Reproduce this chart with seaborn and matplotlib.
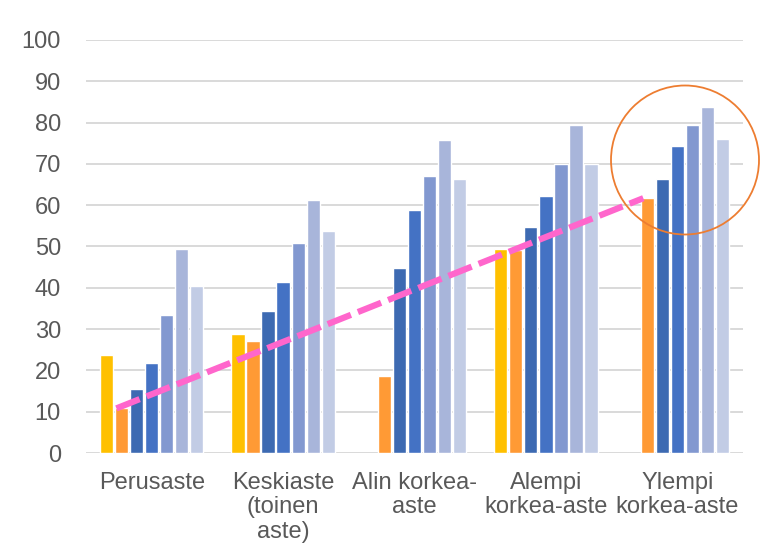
import matplotlib
matplotlib.use("Agg")
import matplotlib.pyplot as plt
import seaborn as sns
import pandas as pd
import numpy as np
from matplotlib.patches import Ellipse

categories = ["Perusaste", "Keskiaste\n(toinen\naste)", "Alin korkea-\naste",
              "Alempi\nkorkea-aste", "Ylempi\nkorkea-aste"]
series = ["s1", "s2", "s3", "s4", "s5", "s6", "s7"]
s1 = [23.8, 28.9, np.nan, 49.5, np.nan]
s2 = [10.8, 27.0, 18.6, 49.2, 61.7]
s3 = [15.4, 34.5, 44.8, 54.7, 66.3]
s4 = [21.8, 41.5, 58.9, 62.2, 74.3]
s5 = [33.3, 50.8, 67.1, 70.0, 79.3]
s6 = [49.4, 61.2, 75.7, 79.5, 83.7]
s7 = [40.4, 53.8, 66.4, 70.0, 76.0]
colors = ["#FFC000", "#FF9A35", "#3D6AB2", "#4472C4", "#8298D0", "#A8B5DA", "#C2CCE5"]

rows = []
for name, vals in zip(series, [s1, s2, s3, s4, s5, s6, s7]):
    for c, v in zip(categories, vals):
        rows.append({"cat": c, "series": name, "val": v})
df = pd.DataFrame(rows)

sns.set_theme(style="white")
plt.rcParams["font.family"] = ["Liberation Sans", "DejaVu Sans"]

fig = plt.figure(figsize=(7.61, 5.48), dpi=100)
ax = fig.add_axes([86/761, 1-453/548, (743-86)/761, (453-40)/548])

sns.barplot(data=df, x="cat", y="val", hue="series", order=categories,
            hue_order=series, palette=colors, width=0.8, gap=0.12,
            legend=False, ax=ax, saturation=1, err_kws={"linewidth": 0})

ax.set_ylim(0, 100)
ax.set_yticks(range(0, 101, 10))
ax.set_xlim(-0.5, 4.5)
ax.yaxis.grid(True, color="#D9D9D9", linewidth=1.4)
ax.set_axisbelow(True)
for s in ax.spines.values():
    s.set_visible(False)
ax.set_xlabel("")
ax.set_ylabel("")
ax.tick_params(axis="both", length=0, labelsize=17, labelcolor="#595959")
ax.tick_params(axis="y", pad=18)
ax.tick_params(axis="x", pad=14)
for t in ax.get_xticklabels():
    t.set_multialignment("center")
    t.set_linespacing(1.12)

# Pink dashed trend line from orange bar of first to last group
orange_bars = [p for p in ax.patches if p.get_height() > 0 and
               np.allclose(p.get_facecolor()[:3], matplotlib.colors.to_rgb(colors[1]), atol=0.02)]
orange_bars.sort(key=lambda p: p.get_x())
b0, b1 = orange_bars[0], orange_bars[-1]
x0 = b0.get_x() + b0.get_width() / 2 - 0.04
x1 = b1.get_x() + b1.get_width() / 2 - 0.03
ax.plot([x0, x1], [s2[0], s2[-1]], color="#FF66CC", linewidth=4.5,
        dashes=(4.0, 1.2), solid_capstyle="butt", dash_capstyle="butt", zorder=5)

circ = Ellipse((685/761, 1-160/548), 148/761, 149/548, transform=fig.transFigure,
               fill=False, edgecolor="#ED7D31", linewidth=1.3, zorder=6)
fig.add_artist(circ)

fig.savefig("out.png", dpi=100)
